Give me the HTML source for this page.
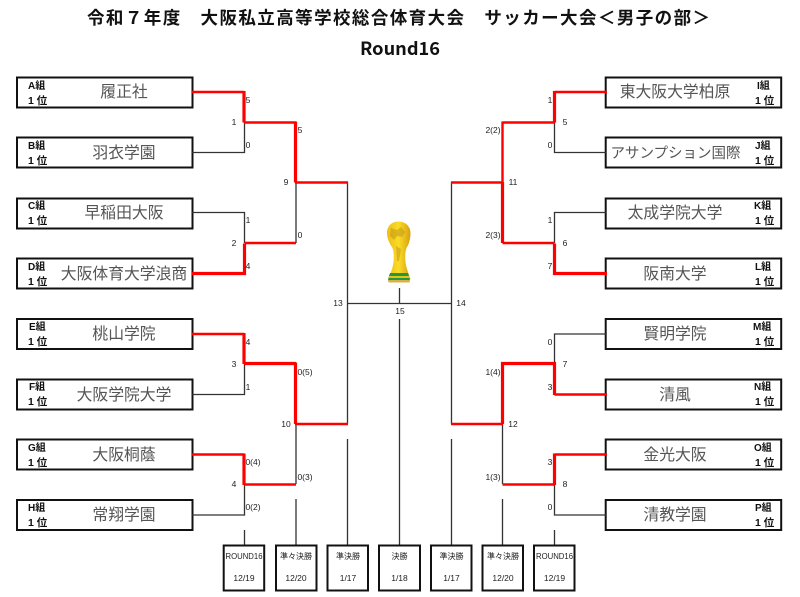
<!DOCTYPE html>
<html><head><meta charset="utf-8">
<style>
html,body{margin:0;padding:0;background:#fff}
svg{display:block;filter:blur(.35px)}
text{font-family:"Liberation Sans","Noto Sans CJK JP",sans-serif}
.t{font-size:17.5px;font-weight:700;fill:#111;font-family:"Noto Sans CJK JP",sans-serif}
.n{font-size:15.8px;fill:#555;text-anchor:middle}
.g{font-size:10px;font-weight:700;fill:#111}
.p{font-size:10.5px;font-weight:700;fill:#111}
.s{font-size:8.5px;fill:#222;text-anchor:middle;dominant-baseline:central}
.b{font-size:8.5px;fill:#222;text-anchor:middle}
.c{font-size:8px;fill:#222;text-anchor:middle}
.box{fill:#fff;stroke:#111;stroke-width:2}
.k{fill:none;stroke:#333;stroke-width:1.3}
.r{fill:none;stroke:#f00;stroke-width:2.4}
.rt{fill:none;stroke:#f00;stroke-width:3.2}
</style></head><body>
<svg width="800" height="597" viewBox="0 0 800 597" xmlns="http://www.w3.org/2000/svg">
<text class="t" x="87" y="24" textLength="623" lengthAdjust="spacing">令和７年度　大阪私立高等学校総合体育大会　サッカー大会＜男子の部＞</text>
<text class="t" x="360" y="55" textLength="80" lengthAdjust="spacingAndGlyphs" style="font-size:18px">Round16</text>

<!-- left boxes -->
<rect class="box" x="17" y="77.500" width="175.500" height="30"/>
<rect class="box" x="17" y="137.500" width="175.500" height="30"/>
<rect class="box" x="17" y="198.500" width="175.500" height="30"/>
<rect class="box" x="17" y="258.500" width="175.500" height="30"/>
<rect class="box" x="17" y="319" width="175.500" height="30"/>
<rect class="box" x="17" y="379.500" width="175.500" height="30"/>
<rect class="box" x="17" y="439.500" width="175.500" height="30"/>
<rect class="box" x="17" y="500" width="175.500" height="30"/>
<!-- right boxes -->
<rect class="box" x="605.700" y="77.500" width="175.500" height="30"/>
<rect class="box" x="605.700" y="137.500" width="175.500" height="30"/>
<rect class="box" x="605.700" y="198.500" width="175.500" height="30"/>
<rect class="box" x="605.700" y="258.500" width="175.500" height="30"/>
<rect class="box" x="605.700" y="319" width="175.500" height="30"/>
<rect class="box" x="605.700" y="379.500" width="175.500" height="30"/>
<rect class="box" x="605.700" y="439.500" width="175.500" height="30"/>
<rect class="box" x="605.700" y="500" width="175.500" height="30"/>

<!-- dark connectors -->
<path class="k" d="M192 152.500H244.500V122M192 212.500H244.500V243M296 182V243M192 394.500H244.500V364M244.500 484V515H192M296 424V484M347.500 182V424M347.500 303.500H451.500M451.500 182V424M606 152.500H554.500V122M606 212.500H554.500V243M502.500 182V243M606 334H554.500V364M554.500 484V515H606M502.500 424V484M399.500 288V303M399.500 319V545"/>
<path class="k" d="M347.500 439V545M451.500 439V545M296 499V545M502.500 499V545M244.500 530V545M554.500 530V545"/>

<!-- red connectors -->
<path class="r" d="M192 92H244"/><path class="rt" d="M244 91V122.500"/><path class="r" d="M244 122.500H296"/><path class="rt" d="M295.500 121.500V182.500"/><path class="r" d="M295 182.500H348"/>
<path class="rt" d="M192 273.500H244.500V243.500"/>
<path class="r" d="M244.500 243H296"/>
<path class="r" d="M192 334H244"/><path class="rt" d="M244 333V364"/><path class="rt" d="M244 363.500H296"/><path class="rt" d="M295.500 362.500V424"/><path class="r" d="M295 424H348"/>
<path class="r" d="M192 454.500H244"/><path class="rt" d="M244 453.500V485"/><path class="r" d="M244 484.500H296"/>
<path class="r" d="M607 92H554.500"/><path class="rt" d="M554.500 91V122.500"/><path class="r" d="M555 122.500H502.500"/><path class="r" d="M502.500 121.500V182.500"/><path class="r" d="M503 182.500H451"/>
<path class="rt" d="M607 273.500H554.500V243.500"/>
<path class="r" d="M554.500 243H502.500"/><path class="rt" d="M502.500 182V243"/>
<path class="r" d="M607 394.500H554.500"/><path class="rt" d="M554.500 395V363.500H502.500V424"/><path class="r" d="M503 424H451"/>
<path class="r" d="M607 454.500H554.500"/><path class="rt" d="M554.500 453.500V485"/><path class="r" d="M555 484.500H502.500"/>

<!-- names -->
<text class="n" x="124" y="97">履正社</text>
<text class="n" x="124" y="158">羽衣学園</text>
<text class="n" x="124" y="218">早稲田大阪</text>
<text class="n" x="124" y="279">大阪体育大学浪商</text>
<text class="n" x="124" y="339">桃山学院</text>
<text class="n" x="124" y="400">大阪学院大学</text>
<text class="n" x="124" y="460">大阪桐蔭</text>
<text class="n" x="124" y="520">常翔学園</text>
<text class="n" x="675" y="97">東大阪大学柏原</text>
<text class="n" x="675.500" y="158" style="font-size:14.500px">アサンプション国際</text>
<text class="n" x="675" y="218">太成学院大学</text>
<text class="n" x="675" y="279">阪南大学</text>
<text class="n" x="675" y="339">賢明学院</text>
<text class="n" x="675" y="400">清風</text>
<text class="n" x="675" y="460">金光大阪</text>
<text class="n" x="675" y="520">清教学園</text>

<!-- group labels left -->
<text class="g" x="28" y="89">A組</text><text class="p" x="28" y="104">1 位</text>
<text class="g" x="28" y="149">B組</text><text class="p" x="28" y="164">1 位</text>
<text class="g" x="28" y="209">C組</text><text class="p" x="28" y="224">1 位</text>
<text class="g" x="28" y="270">D組</text><text class="p" x="28" y="285">1 位</text>
<text class="g" x="29" y="330">E組</text><text class="p" x="28" y="345">1 位</text>
<text class="g" x="29" y="390">F組</text><text class="p" x="28" y="405">1 位</text>
<text class="g" x="28" y="451">G組</text><text class="p" x="28" y="466">1 位</text>
<text class="g" x="28" y="511">H組</text><text class="p" x="28" y="526">1 位</text>
<!-- group labels right -->
<text class="g" x="757" y="89">I組</text><text class="p" x="755" y="104">1 位</text>
<text class="g" x="755" y="149">J組</text><text class="p" x="755" y="164">1 位</text>
<text class="g" x="754" y="209">K組</text><text class="p" x="755" y="224">1 位</text>
<text class="g" x="755" y="270">L組</text><text class="p" x="755" y="285">1 位</text>
<text class="g" x="753" y="330">M組</text><text class="p" x="755" y="345">1 位</text>
<text class="g" x="754" y="390">N組</text><text class="p" x="755" y="405">1 位</text>
<text class="g" x="754" y="451">O組</text><text class="p" x="755" y="466">1 位</text>
<text class="g" x="755" y="511">P組</text><text class="p" x="755" y="526">1 位</text>

<!-- scores left -->
<text class="s" x="248" y="100">5</text><text class="s" x="234" y="122">1</text><text class="s" x="248" y="145">0</text>
<text class="s" x="300" y="130">5</text><text class="s" x="286" y="182">9</text><text class="s" x="300" y="235">0</text>
<text class="s" x="248" y="220">1</text><text class="s" x="234" y="243">2</text><text class="s" x="248" y="266">4</text>
<text class="s" x="248" y="342">4</text><text class="s" x="234" y="364">3</text><text class="s" x="248" y="387">1</text>
<text class="s" x="305" y="372">0(5)</text><text class="s" x="286" y="424">10</text><text class="s" x="305" y="477">0(3)</text>
<text class="s" x="253" y="462">0(4)</text><text class="s" x="234" y="484">4</text><text class="s" x="253" y="507">0(2)</text>
<text class="s" x="338" y="303">13</text><text class="s" x="461" y="303">14</text><text class="s" x="400" y="311">15</text>
<!-- scores right -->
<text class="s" x="550" y="100">1</text><text class="s" x="565" y="122">5</text><text class="s" x="550" y="145">0</text>
<text class="s" x="493" y="130">2(2)</text><text class="s" x="513" y="182">11</text><text class="s" x="493" y="235">2(3)</text>
<text class="s" x="550" y="220">1</text><text class="s" x="565" y="243">6</text><text class="s" x="550" y="266">7</text>
<text class="s" x="550" y="342">0</text><text class="s" x="565" y="364">7</text><text class="s" x="550" y="387">3</text>
<text class="s" x="493" y="372">1(4)</text><text class="s" x="513" y="424">12</text><text class="s" x="493" y="477">1(3)</text>
<text class="s" x="550" y="462">3</text><text class="s" x="565" y="484">8</text><text class="s" x="550" y="507">0</text>

<!-- bottom boxes -->
<rect class="box" x="223.700" y="545.500" width="40.500" height="45"/>
<rect class="box" x="276" y="545.500" width="40.500" height="45"/>
<rect class="box" x="327.500" y="545.500" width="40.500" height="45"/>
<rect class="box" x="379" y="545.500" width="41" height="45"/>
<rect class="box" x="431" y="545.500" width="40.500" height="45"/>
<rect class="box" x="482.500" y="545.500" width="40.500" height="45"/>
<rect class="box" x="534" y="545.500" width="40.500" height="45"/>
<text class="b" x="244" y="559" textLength="37" lengthAdjust="spacingAndGlyphs">ROUND16</text><text class="b" x="244" y="581">12/19</text>
<text class="c" x="296" y="559">準々決勝</text><text class="b" x="296" y="581">12/20</text>
<text class="c" x="348" y="559">準決勝</text><text class="b" x="348" y="581">1/17</text>
<text class="c" x="399.500" y="559">決勝</text><text class="b" x="399.500" y="581">1/18</text>
<text class="c" x="451.500" y="559">準決勝</text><text class="b" x="451.500" y="581">1/17</text>
<text class="c" x="503" y="559">準々決勝</text><text class="b" x="503" y="581">12/20</text>
<text class="b" x="554.500" y="559" textLength="37" lengthAdjust="spacingAndGlyphs">ROUND16</text><text class="b" x="554.500" y="581">12/19</text>

<!-- trophy -->
<defs><linearGradient id="au" x1="0" x2="1"><stop offset="0" stop-color="#eebc14"/><stop offset=".5" stop-color="#fadc28"/><stop offset="1" stop-color="#d8a010"/></linearGradient></defs>
<path fill="url(#au)" d="M398.500 221.500C391 221.500 387 227 387 233C387 239 390 244 392.500 248C394 252 394 257 393.500 262C393 267 391 272 388.500 279H410.500C408 272 406 267 405.500 262C405 257 405 252 406.500 248C409 244 410.500 239 410.500 233C410.500 227 406 221.500 398.500 221.500Z"/>
<path fill="#b88a14" opacity=".45" d="M391 228l6 2 4-3 4 5-3 5-5-1-3 4-4-4zM396 246l5 3-2 12-2 0z"/>
<path fill="#1f9a3a" d="M390 273H408L409 276H389Z"/>
<path fill="#e8c018" d="M389 276H409L410 278H388Z"/>
<path fill="#1f9a3a" d="M388.500 278H409.500L410 280H388Z"/>
<path fill="#d8b048" d="M388 280H410L409.500 282.500H388.500Z"/>
</svg>
</body></html>
